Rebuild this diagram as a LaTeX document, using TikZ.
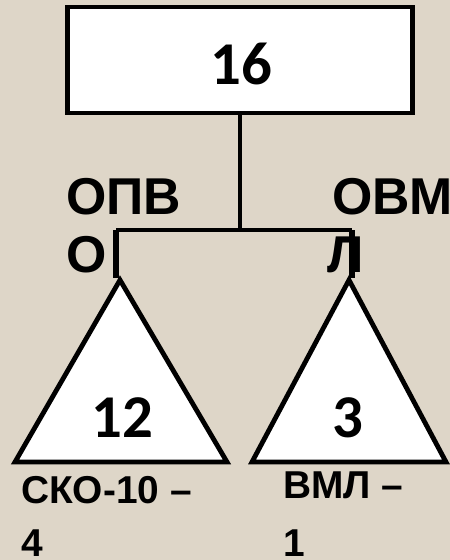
\documentclass[tikz,border=0pt]{standalone}
\usepackage{fontspec}
\setmainfont{Liberation Sans}
\newfontfamily\numfont{Carlito}
\definecolor{stonebg}{RGB}{222,214,200}
\tikzset{
  figline/.style={line width=4.8bp, black, line join=miter},
  numtext/.style={font=\numfont\bfseries\fontsize{61}{61}\selectfont, inner sep=0pt},
  labtext/.style={font=\bfseries\fontsize{52}{58}\selectfont, inner sep=0pt, anchor=west},
  subtext/.style={font=\bfseries\fontsize{39}{55}\selectfont, inner sep=0pt, anchor=west}
}
\begin{document}
\begin{tikzpicture}[x=1bp, y=-1bp]
    % Background and bounding box
    \fill[stonebg] (0,0) rectangle (450,560);
    \useasboundingbox (0,0) rectangle (450,560);

    % Top box
    \node[draw, figline, fill=white, minimum width=345bp, minimum height=106bp, inner sep=0pt] (root) at (240,60) {};
    \node[numtext] (rootnum) at (241,64) {16};

    % Branch points
    \coordinate (fork) at (240,230);
    \coordinate (forkL) at (116,230);
    \coordinate (forkR) at (352,230);
    \coordinate (topL) at (120,280);
    \coordinate (topR) at (349,280);

    % Triangles
    \draw[figline, fill=white] (topL) -- (227,462) -- (15,462) -- cycle;
    \draw[figline, fill=white] (topR) -- (446,462) -- (252,462) -- cycle;
    \node[numtext] (leftnum) at (122,418) {12};
    \node[numtext] (rightnum) at (348,418) {3};

    % Connectors
    \draw[figline] (root.south) -- (fork);
    \draw[figline] (forkL) -- (forkR);
    \draw[figline, line width=5.5bp] (forkL) -- (116,278);
    \draw[figline, line width=5.5bp] (forkR) -- (352,278);

    % Labels
    \node[labtext] (leftlab1) at (66,197) {ОПВ};
    \node[labtext] (leftlab2) at (66,255) {О};
    \node[labtext] (rightlab1) at (332,197) {ОВМ};
    \node[labtext] (rightlab2) at (327,255) {Л};
    \node[subtext] (leftsub1) at (21,490) {СКО-10 –};
    \node[subtext] (leftsub2) at (21,543) {4};
    \node[subtext] (rightsub1) at (283,485) {ВМЛ –};
    \node[subtext] (rightsub2) at (283,543) {1};
\end{tikzpicture}
\end{document}
